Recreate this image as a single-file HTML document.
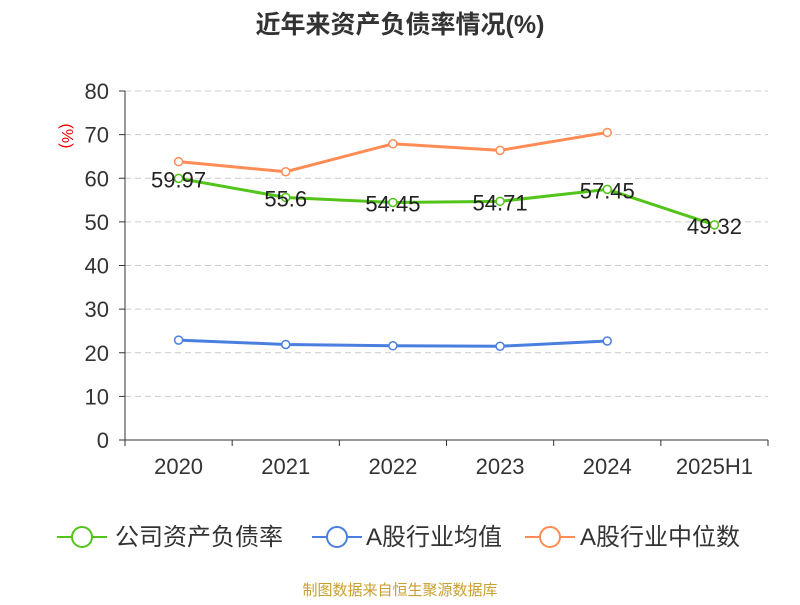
<!DOCTYPE html>
<html><head><meta charset="utf-8"><style>
body{margin:0;background:#fff;font-family:"Liberation Sans","Noto Sans CJK SC",sans-serif}
</style></head><body>
<svg width="800" height="600" xmlns="http://www.w3.org/2000/svg" font-family="Liberation Sans, Noto Sans CJK SC, sans-serif">
<text x="400" y="33" text-anchor="middle" font-size="25" font-weight="bold" fill="#333">近年来资产负债率情况(%)</text>
<text x="70" y="128" font-size="16" fill="#e00" transform="rotate(90 62 128)" text-anchor="middle">(%)</text>
<g id="grid"></g><g id="axes"></g><g id="series"></g>
<g>
<g><line x1="57" y1="537" x2="107" y2="537" stroke="#52c41a" stroke-width="2"/><circle cx="82" cy="537" r="10" fill="#fff" stroke="#52c41a" stroke-width="2"/><text x="115" y="545" font-size="24" fill="#333">公司资产负债率</text></g>
<g><line x1="312" y1="537" x2="362" y2="537" stroke="#4a7fe0" stroke-width="2"/><circle cx="337" cy="537" r="10" fill="#fff" stroke="#4a7fe0" stroke-width="2"/><text x="366" y="545" font-size="24" fill="#333">A股行业均值</text></g>
<g><line x1="525" y1="537" x2="575" y2="537" stroke="#ff8c55" stroke-width="2"/><circle cx="550" cy="537" r="10" fill="#fff" stroke="#ff8c55" stroke-width="2"/><text x="580" y="545" font-size="24" fill="#333">A股行业中位数</text></g>
</g>
<text x="400" y="595" text-anchor="middle" font-size="15" fill="#c8a030">制图数据来自恒生聚源数据库</text>
</svg>
<script>
const categories=["2020","2021","2022","2023","2024","2025H1"];
const companyValues=[59.97,55.6,54.45,54.71,57.45,49.32];
const industryMean=[22.9,21.9,21.6,21.5,22.7];
const industryMedian=[63.8,61.5,67.9,66.4,70.5];
const yTicks=[0,10,20,30,40,50,60,70,80];
const NS="http://www.w3.org/2000/svg";
const x0=125,x1=768,yb=440,yt=91,ymax=80;
const bw=(x1-x0)/categories.length;
const X=i=>x0+bw*(i+0.5);
const Y=v=>yb-(v/ymax)*(yb-yt);
function mk(tag,attrs,parent){const e=document.createElementNS(NS,tag);for(const k in attrs)e.setAttribute(k,attrs[k]);parent.appendChild(e);return e;}
const grid=document.getElementById('grid'),axes=document.getElementById('axes'),ser=document.getElementById('series');
yTicks.forEach(t=>{
 if(t>0){const g=mk('line',{x1:x0,x2:x1,y1:Y(t),y2:Y(t),stroke:'#ccc','stroke-dasharray':'6,4'},grid);
 
 }
 const tk=mk('line',{x1:x0-6,x2:x0,y1:Y(t),y2:Y(t),stroke:'#333'},axes);
 
 
 const l=mk('text',{x:x0-16,y:Y(t)+8,'text-anchor':'end','font-size':22,fill:'#333'},axes);l.textContent=t;
 
 
});
const ya=mk('line',{x1:x0,x2:x0,y1:yt,y2:yb,stroke:'#333'},axes);


const xa=mk('line',{x1:x0,x2:x1,y1:yb,y2:yb,stroke:'#333'},axes);


for(let i=0;i<=categories.length;i++){const t=mk('line',{x1:x0+bw*i,x2:x0+bw*i,y1:yb,y2:yb+6,stroke:'#333'},axes);
 
 }
categories.forEach((c,i)=>{const l=mk('text',{x:X(i),y:474,'text-anchor':'middle','font-size':22,fill:'#333'},axes);l.textContent=c;
 
 });
function series(vals,color,name,labels){
 const g=mk('g',{},ser);
 
 
 mk('polyline',{points:vals.map((v,i)=>X(i)+','+Y(v)).join(' '),fill:'none',stroke:color,'stroke-width':3},g);
 vals.forEach((v,i)=>{const c=mk('circle',{cx:X(i),cy:Y(v),r:4,fill:'#fff',stroke:color,'stroke-width':1.5},g);
  
  
  if(labels){const t=mk('text',{x:X(i),y:Y(v)+9,'text-anchor':'middle','font-size':22,fill:'#222'},g);t.textContent=v;
   
   }});
}
series(industryMedian,'#ff8c55','industry-median-line',false);
series(industryMean,'#4a7fe0','industry-mean-line',false);
series(companyValues,'#52c41a','company-line',true);
</script>
</body></html>
